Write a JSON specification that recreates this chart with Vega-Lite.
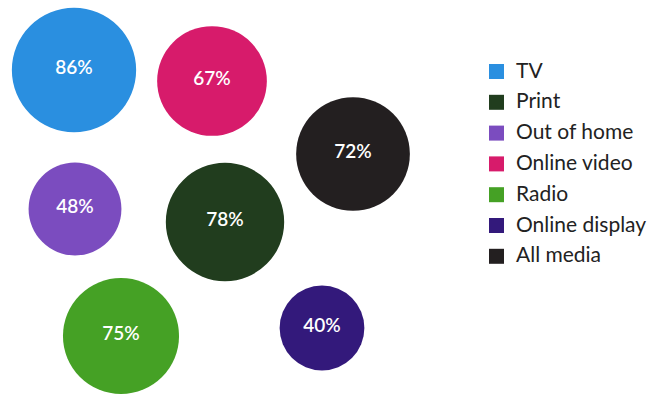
{
  "$schema": "https://vega.github.io/schema/vega-lite/v6.json",
  "width": 662,
  "height": 396,
  "padding": 0,
  "autosize": {"type": "none"},
  "background": "white",
  "config": {"view": {"stroke": null}},
  "data": {
    "values": [
      {"medium": "TV", "value": 86, "label": "86%", "x": 74, "y": 70},
      {"medium": "Online video", "value": 67, "label": "67%", "x": 212, "y": 81},
      {"medium": "All media", "value": 72, "label": "72%", "x": 353, "y": 154},
      {"medium": "Out of home", "value": 48, "label": "48%", "x": 75, "y": 209},
      {"medium": "Print", "value": 78, "label": "78%", "x": 225, "y": 222},
      {"medium": "Radio", "value": 75, "label": "75%", "x": 121, "y": 336},
      {"medium": "Online display", "value": 40, "label": "40%", "x": 322, "y": 328}
    ]
  },
  "encoding": {
    "x": {"field": "x", "type": "quantitative", "scale": {"domain": [0, 662], "nice": false, "zero": false}, "axis": null},
    "y": {"field": "y", "type": "quantitative", "scale": {"domain": [0, 396], "reverse": true, "nice": false, "zero": false}, "axis": null}
  },
  "layer": [
    {
      "mark": {"type": "circle", "opacity": 1, "stroke": null},
      "encoding": {
        "size": {"field": "value", "type": "quantitative", "scale": {"type": "linear", "domain": [0, 100], "range": [0, 17960], "zero": true}, "legend": null},
        "color": {
          "field": "medium",
          "type": "nominal",
          "scale": {
            "domain": ["TV", "Print", "Out of home", "Online video", "Radio", "Online display", "All media"],
            "range": ["#2a8fe0", "#213d1e", "#7b4cbf", "#d71b6b", "#45a125", "#33197b", "#231f20"]
          },
          "legend": {
            "title": null,
            "orient": "none",
            "legendX": 486,
            "legendY": 61,
            "symbolType": "square",
            "symbolSize": 225,
            "symbolStrokeWidth": 0,
            "symbolOpacity": 1,
            "labelFontSize": 21,
            "labelFont": "Lato",
            "labelColor": "#222222",
            "labelOffset": 9,
            "rowPadding": 8.8,
            "padding": 0
          }
        }
      }
    },
    {
      "mark": {"type": "text", "color": "white", "font": "Lato", "fontSize": 19, "fontWeight": 600, "baseline": "middle", "align": "center", "dy": -2},
      "encoding": {
        "text": {"field": "label", "type": "nominal"},
        "detail": {"field": "medium"}
      }
    }
  ]
}
